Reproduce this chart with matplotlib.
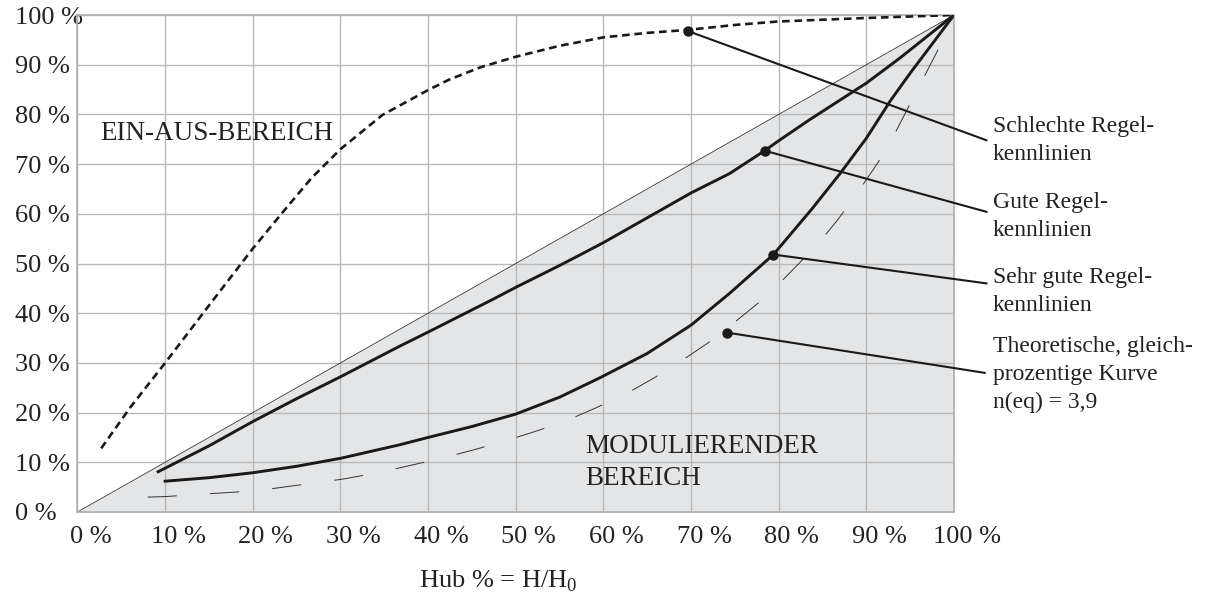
import matplotlib
matplotlib.use("Agg")
import matplotlib.pyplot as plt
from matplotlib.transforms import ScaledTranslation

plt.rcParams['font.family'] = ['Liberation Serif', 'DejaVu Serif']
plt.rcParams['mathtext.fontset'] = 'custom'
plt.rcParams['mathtext.rm'] = 'Liberation Serif'
plt.rcParams['lines.scale_dashes'] = False

# Schlechte Regelkennlinien (kurz gestrichelt)
x_bad = [2.7, 6, 10, 15.5, 20, 23.5, 26.7, 30, 34.8, 40, 42.4, 46, 50, 55, 60, 65, 69.6, 75, 80, 90, 100]
y_bad = [12.8, 21, 30, 42.7, 53, 60.5, 67.2, 73, 79.9, 84.9, 87.0, 89.5, 91.6, 93.8, 95.5, 96.4, 97.0, 98, 98.7, 99.4, 100]

# Gute Regelkennlinien
x_good = [9.2, 15, 20, 25, 30, 36.8, 40, 47.4, 50, 55, 57.3, 60, 65, 70, 74.4, 78.4, 80, 83.5, 90, 93.8, 100]
y_good = [8.1, 13.3, 18.2, 22.8, 27.2, 33.4, 36.2, 42.8, 45.2, 49.6, 51.7, 54.2, 59.2, 64.2, 68.1, 72.7, 74.7, 78.9, 86.3, 91.3, 100]

# Sehr gute Regelkennlinien
x_vgood = [10, 15, 20, 25, 30, 36.7, 40, 45, 50, 55, 59.6, 65, 70, 74.4, 79.4, 83.8, 87, 90, 92.8, 95, 100]
y_vgood = [6.2, 6.9, 7.9, 9.2, 10.8, 13.5, 15.0, 17.2, 19.7, 23.1, 27.0, 31.9, 37.6, 44.0, 51.8, 61.0, 68.1, 75.2, 82.9, 88.3, 100]

# Theoretische gleichprozentige Kurve
x_theo = [8, 10, 14.2, 18, 22.2, 26, 30.2, 34, 37.8, 41.5, 45.2, 48.6, 52.2, 55.7, 59.2, 62.5,
          65.8, 68.8, 72, 74.7, 78.2, 79.8, 82.2, 84.4, 86.6, 88.5, 90.4, 92.2, 93.7, 95.1, 96.6, 98, 100]
y_theo = [3.0, 3.1, 3.6, 4.0, 4.7, 5.6, 6.6, 7.8, 9.3, 10.8, 12.5, 14.2, 16.2, 18.3, 21.0, 23.7,
          27.0, 30.3, 34.1, 37.8, 42.8, 45.5, 49.8, 53.8, 58.5, 63.0, 67.9, 72.6, 77.7, 82.5, 87.6, 92.4, 100]

ticks = [0, 10, 20, 30, 40, 50, 60, 70, 80, 90, 100]
tick_labels = [f"{t} %" for t in ticks]

# Beschriftungen rechts: Punkt auf Kurve, Ende der Linie, Textzeilen
notes = [
    ((69.6, 96.8), (103.7, 74.8), (104.4, 76.5), ["Schlechte Regel-", "kennlinien"]),
    ((78.4, 72.7), (103.7, 60.4), (104.4, 61.1), ["Gute Regel-", "kennlinien"]),
    ((79.4, 51.8), (103.7, 46.0), (104.4, 46.0), ["Sehr gute Regel-", "kennlinien"]),
    ((74.1, 36.1), (103.5, 28.0), (104.4, 32.25), ["Theoretische, gleich-", "prozentige Kurve", "n(eq) = 3,9"]),
]

fig = plt.figure(figsize=(12.05, 5.97), dpi=100)
ax = fig.add_axes([77.5 / 1205, 1 - 512 / 597, (954 - 77.5) / 1205, (512 - 15) / 597])

ax.fill_between([0, 100], [0, 0], [0, 100], color='#e4e5e7', zorder=0, linewidth=0)
ax.plot([0, 100], [0, 100], color='#333333', lw=0.6, zorder=2)

ax.plot(x_bad, y_bad, color='#1a1a1a', lw=1.9, dashes=(5.5, 3.4), zorder=3)
ax.plot(x_good, y_good, color='#1a1a1a', lw=2.1, zorder=3, solid_joinstyle='round')
ax.plot(x_vgood, y_vgood, color='#1a1a1a', lw=2.1, zorder=3, solid_joinstyle='round')
ax.plot(x_theo, y_theo, color='#333333', lw=0.7, dashes=(21, 24), zorder=3)

ax.set_xlim(0, 100)
ax.set_ylim(0, 100)
ax.set_xticks(ticks)
ax.set_yticks(ticks)
ax.set_xticklabels(tick_labels, fontsize=19)
ax.set_yticklabels(tick_labels, fontsize=19, ha='left')
ax.tick_params(axis='both', length=0, colors='#222222')
ax.tick_params(axis='x', pad=10)
ax.tick_params(axis='y', pad=45)
for lab in ax.get_xticklabels():
    lab.set_transform(lab.get_transform() + ScaledTranslation(0.13, 0, fig.dpi_scale_trans))
ax.grid(True, color='#b8b8b8', lw=1.0)
for s in ax.spines.values():
    s.set_color('#b0b0b0')
    s.set_linewidth(1.2)

ax.text(2.6, 74.8, "EIN-AUS-BEREICH", fontsize=19.5, va='baseline', color='#222222')
ax.text(57.9, 11.9, "MODULIERENDER", fontsize=19.5, va='baseline', color='#222222')
ax.text(57.9, 5.4, "BEREICH", fontsize=19.5, va='baseline', color='#222222')

for dot, end, pos, lines in notes:
    ax.plot([dot[0], end[0]], [dot[1], end[1]], color='#1a1a1a', lw=1.5, clip_on=False, zorder=4)
    ax.plot(dot[0], dot[1], 'o', color='#1a1a1a', ms=6.5, clip_on=False, zorder=5)
    for i, line in enumerate(lines):
        off = ScaledTranslation(0, -i * 0.28, fig.dpi_scale_trans)
        ax.text(pos[0], pos[1], line, fontsize=17, va='baseline', ha='left', color='#222222',
                transform=ax.transData + off, clip_on=False)

fig.text(419 / 1205, 1 - 587 / 597, "Hub % = H/H$_\\mathrm{0}$", fontsize=19, va='baseline',
         color='#222222')

fig.savefig("out.png", dpi=100)
